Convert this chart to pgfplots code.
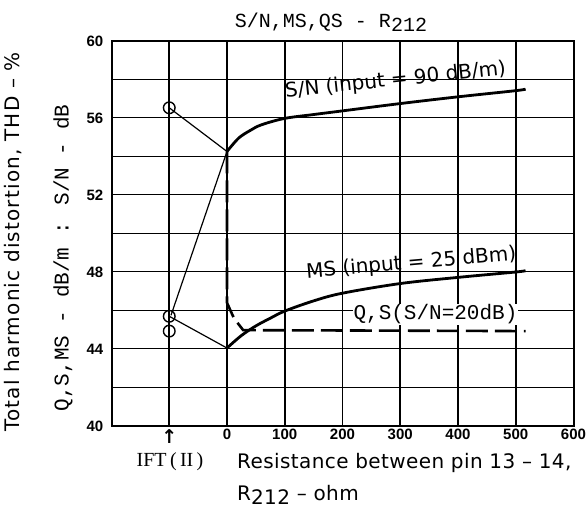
\documentclass[border=0pt]{standalone}
\usepackage{fontspec}
\setmainfont{DejaVu Sans}
\newfontfamily\lsans{Liberation Sans}
\newfontfamily\mono{Liberation Mono}
\newfontfamily\serifrm{Liberation Serif}
\newfontfamily\djv{DejaVu Sans}
\usepackage{pgfplots}
\pgfplotsset{compat=1.18}
\begin{document}
\begin{tikzpicture}
\useasboundingbox (-111.5pt,-85pt) rectangle (476.5pt,426pt);
\begin{axis}[
  at={(0,0)}, anchor=south west,
  scale only axis, width=462pt, height=385pt,
  xmin=-200, xmax=600, ymin=40, ymax=60,
  xtick={-100,0,100,200,300,400,500,600},
  xticklabels={{\djv\bfseries\fontsize{19}{19}\selectfont ↑},0,100,200,300,400,500,600},
  ytick={40,44,48,52,56,60},
  minor ytick={42,46,50,54,58},
  xmajorgrids, ymajorgrids, yminorgrids,
  major x grid style={black, line width=1.6pt},
  major y grid style={black, line width=1pt},
  minor y grid style={black, line width=1pt},
  major tick length=0pt, minor tick length=0pt,
  axis line style={line width=2pt},
  /pgf/number format/assume math mode=true,
  tick label style={font=\lsans\bfseries\fontsize{15}{15}\selectfont},
  xticklabel style={inner sep=0pt, yshift=-3pt},
  yticklabel style={inner sep=0pt, xshift=-8pt},
  clip=false,
]
% S/N curve
\addplot[black, line width=2.8pt, smooth, tension=0.55] coordinates {
  (0,54.26) (20,54.95) (40,55.35) (60,55.65) (100,55.98) (150,56.18)
  (200,56.37) (300,56.75) (400,57.1) (500,57.42) (517,57.5)};
% MS curve
\addplot[black, line width=2.8pt, smooth, tension=0.55] coordinates {
  (0,44.05) (25,44.7) (50,45.2) (75,45.6) (100,45.97) (150,46.5)
  (200,46.9) (300,47.4) (400,47.72) (500,48.0) (517,48.07)};
% QS curve (dashed)
\addplot[black, line width=2.6pt, dash pattern=on 22pt off 7pt] coordinates {
  (0,54.26) (0,46.4) (12,45.6) (28,44.98) (517,44.93)};
% thin connecting lines from IFT(II)
\addplot[black, line width=1.2pt] coordinates {(-100,56.53) (0,54.26)};
\addplot[black, line width=1.2pt] coordinates {(0,54.26) (-97,45.75)};
\addplot[black, line width=1.2pt] coordinates {(-100,45.7) (0,44.05)};
% circles
\addplot[only marks, mark=o, mark size=5.8pt, mark options={fill=white, line width=1.4pt, draw=black}]
  coordinates {(-100,56.53) (-100,45.7) (-100,44.93)};
% curve labels
\node[rotate=6] at (axis cs:292,57.95) {\fontsize{20}{20}\selectfont S/N (input = 90 dB/m)};
\node[rotate=5] at (axis cs:319,48.45) {\fontsize{20}{20}\selectfont MS (input = 25 dBm)};
\node[fill=white, inner sep=1pt] at (axis cs:361,45.8) {\mono\fontsize{21}{21}\selectfont Q,S(S/N=20dB)};
\end{axis}
% title and axis labels
\node at (219.5pt,404pt) {\mono\fontsize{20}{20}\selectfont S/N,MS,QS - R\raisebox{-4pt}{212}};
\node[rotate=90] at (-98pt,184pt) {\fontsize{20}{20}\selectfont\addfontfeatures{LetterSpace=6}Total harmonic distortion, THD – \%};
\node[rotate=90] at (-48.5pt,168pt) {\mono\fontsize{21}{21}\selectfont Q,S,MS - dB/m : S/N - dB};
\node at (58.5pt,-36pt) {\serifrm\fontsize{20}{20}\selectfont IFT\,(\,II\,)};
\node[anchor=west, inner sep=0pt] at (125.5pt,-37pt) {\fontsize{20}{20}\selectfont\addfontfeatures{LetterSpace=2}Resistance between pin 13 – 14,};
\node[anchor=west, inner sep=0pt] at (125.5pt,-69pt) {\fontsize{20}{20}\selectfont\addfontfeatures{LetterSpace=2}R\raisebox{-4pt}{212} – ohm};
\end{tikzpicture}
\end{document}
